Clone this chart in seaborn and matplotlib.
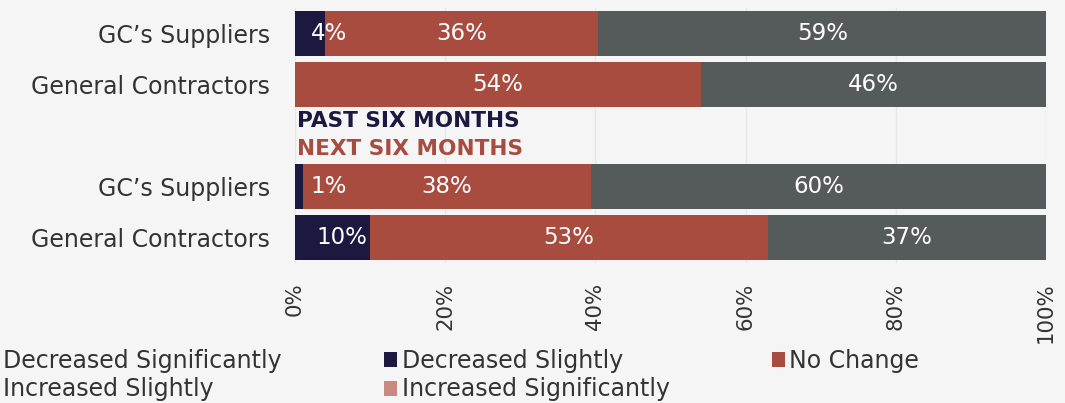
import matplotlib
matplotlib.use("Agg")
import matplotlib.pyplot as plt
from matplotlib.patches import Patch
import numpy as np
import pandas as pd
import seaborn as sns

# rows from top to bottom; the empty slot holds the period headers
row_keys = ["top_sup", "top_gc", "gap", "bot_sup", "bot_gc"]
row_labels = ["GC\u2019s Suppliers", "General Contractors", "", "GC\u2019s Suppliers", "General Contractors"]

series = ["Decreased Significantly", "Decreased Slightly", "No Change",
          "Increased Slightly", "Increased Significantly"]
colors = ["#2b2b2b", "#1c1840", "#a84c40", "#555a5a", "#c98880"]

# percentages per series for each bar row (top_sup, top_gc, bot_sup, bot_gc)
bar_rows = ["top_sup", "top_gc", "bot_sup", "bot_gc"]
dec_sig = [0, 0, 0, 0]
dec_sl = [4, 0, 1, 10]
no_change = [36, 54, 38, 53]
inc_sl = [59, 46, 60, 37]
inc_sig = [0, 0, 0, 0]

header_top = "PAST SIX MONTHS"
header_bot = "NEXT SIX MONTHS"

bg = "#f4f5f4"
text_c = "#333333"

sns.set_theme(style="whitegrid")
plt.rcParams["font.family"] = ["DejaVu Sans"]

vals = np.array([dec_sig, dec_sl, no_change, inc_sl, inc_sig], dtype=float)
vals = vals / vals.sum(axis=0) * 100  # rows sum to 99 due to rounding
cum = np.cumsum(vals, axis=0)

fig = plt.figure(figsize=(10.65, 4.03), dpi=100, facecolor=bg)
ax = fig.add_axes([295 / 1065, 1 - 263 / 403, (1046 - 295) / 1065, 255 / 403])
ax.set_facecolor(bg)

# stacked bars drawn as overlapping cumulative bars, widest first
for i in range(len(series) - 1, -1, -1):
    df = pd.DataFrame({"row": bar_rows, "end": cum[i]})
    sns.barplot(data=df, y="row", x="end", order=row_keys, orient="h",
                color=colors[i], saturation=1, width=0.9, ax=ax,
                edgecolor="none", linewidth=0)

# value labels
for j, key in enumerate(bar_rows):
    y = row_keys.index(key)
    start = 0.0
    raw = [dec_sig[j], dec_sl[j], no_change[j], inc_sl[j], inc_sig[j]]
    for i in range(len(series)):
        v = vals[i, j]
        if raw[i] > 0:
            x = start + v / 2
            if v < 15:
                x = max(x + 1.2, 4.5)
            ax.text(x, y, f"{raw[i]}%", ha="center", va="center",
                    color="white", fontsize=16.5)
        start += v

ax.text(0.3, 1.725, header_top, color="#1c1840", fontsize=15.6,
        fontweight="bold", ha="left", va="center")
ax.text(0.3, 2.255, header_bot, color="#a84c40", fontsize=15.6,
        fontweight="bold", ha="left", va="center")

ax.set_xlim(0, 100)
ax.set_ylim(4.5, -0.5)
ax.set_xticks([0, 20, 40, 60, 80, 100])
ax.set_xticklabels([f"{t}%" for t in [0, 20, 40, 60, 80, 100]],
                   rotation=90, fontsize=15.3, color=text_c)
ax.set_yticks(range(len(row_keys)))
ax.set_yticklabels(row_labels, fontsize=17, color=text_c)
ax.tick_params(axis="x", pad=14, length=0)
ax.tick_params(axis="y", pad=18, length=0)
ax.set_xlabel("")
ax.set_ylabel("")
ax.grid(axis="x", color="#e6e7e6", linewidth=1)
ax.grid(axis="y", visible=False)
for s in ax.spines.values():
    s.set_visible(False)
ax.set_axisbelow(True)

# legend runs off the left edge, as in the source image
handles = [Patch(facecolor=c, edgecolor="none") for c in colors]
order = [0, 3, 1, 4, 2]
fig.legend([handles[k] for k in order], [series[k] for k in order],
           loc="upper left", bbox_to_anchor=(-15 / 1065, 1 - 349 / 403),
           ncol=3, frameon=False, fontsize=17, labelcolor=text_c,
           handlelength=0.55, handleheight=0.6, handletextpad=0.21,
           columnspacing=4.32, borderpad=0, borderaxespad=0, labelspacing=0.19)

fig.savefig("out.png", dpi=100, facecolor=bg)
